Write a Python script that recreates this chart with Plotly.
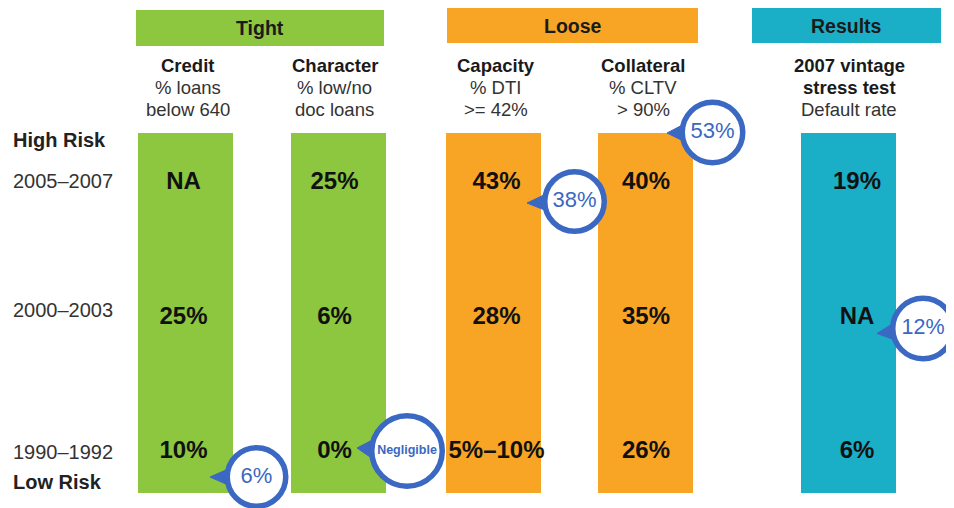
import math
import plotly.graph_objects as go

# ---------------- data ----------------
GROUPS = ["Tight", "Loose", "Results"]
COLUMNS = ["Credit", "Character", "Capacity", "Collateral", "2007 vintage stress test"]
COLUMN_LINES = [
    ["<b>Credit</b>", "% loans", "below 640"],
    ["<b>Character</b>", "% low/no", "doc loans"],
    ["<b>Capacity</b>", "% DTI", ">= 42%"],
    ["<b>Collateral</b>", "% CLTV", "> 90%"],
    ["<b>2007 vintage</b>", "<b>stress test</b>", "Default rate"],
]
COLUMN_GROUP = ["Tight", "Tight", "Loose", "Loose", "Results"]
PERIODS = ["2005–2007", "2000–2003", "1990–1992"]
CREDIT = ["NA", "25%", "10%"]
CHARACTER = ["25%", "6%", "0%"]
CAPACITY = ["43%", "28%", "5%–10%"]
COLLATERAL = ["40%", "35%", "26%"]
RESULTS = ["19%", "NA", "6%"]
SERIES = [CREDIT, CHARACTER, CAPACITY, COLLATERAL, RESULTS]
BUBBLE_COLUMN = ["Capacity", "Collateral", "Character", "Credit", "2007 vintage stress test"]
BUBBLE_PERIOD = ["2005–2007", "2005–2007", "1990–1992", "1990–1992", "2000–2003"]
BUBBLE_TEXT = ["38%", "53%", "Negligible", "6%", "12%"]
RISK_TOP, RISK_BOTTOM = "High Risk", "Low Risk"

# ---------------- style / layout ----------------
W, H = 954, 508
PAGE_OFF = 8  # default page margin around the figure
FONT = "Liberation Sans, Arial, sans-serif"
GROUP_COLORS = {"Tight": "#8DC63F", "Loose": "#F8A526", "Results": "#1AAFC7"}
BLUE = "#3A68C2"
ROW_PX0, ROW_STEP = 183.0, 134.5


def ry(px):
    return (px - ROW_PX0) / ROW_STEP


COL_X = [185.5, 338.5, 493.5, 645, 848]
COL_W = 95
BAR_TOP, BAR_BOTTOM = 133, 493
VAL_DX = [-2, -4, 3, 1, 9]
GROUP_BOX = {"Tight": (136, 384, 10, 46), "Loose": (447, 698, 8, 43), "Results": (752, 941, 8, 43)}
HEADER_LINE_Y = [65, 87.5, 109.5]
HEADER_DX = [2, -4, 2, -2, 1]
BUBBLE_OFFSET = [(81, 18.5), (67.5, -50.5), (68.5, -1), (71, 25), (75, 11)]
BUBBLE_TIP = [(-47.5, 1.5), (-45.5, 0.5), (-50, -3), (-46.5, 0), (-46, 5)]
BUBBLE_D = [65, 66, 76, 64, 66]
BUBBLE_FONT = [(22, "normal"), (22, "normal"), (12.5, "bold"), (22, "normal"), (21.5, "normal")]
RING_W = 5.5

fig = go.Figure()

# columns
fig.add_trace(go.Bar(
    x=COL_X,
    y=[ry(BAR_BOTTOM) - ry(BAR_TOP)] * len(COL_X),
    base=[ry(BAR_TOP)] * len(COL_X),
    width=[COL_W] * len(COL_X),
    marker=dict(color=[GROUP_COLORS[g] for g in COLUMN_GROUP], line_width=0),
    hoverinfo="skip",
))

# values
for ci, vals in enumerate(SERIES):
    fig.add_trace(go.Scatter(
        x=[COL_X[ci] + VAL_DX[ci]] * len(vals),
        y=list(range(len(vals))),
        mode="text",
        text=vals,
        textposition="middle center",
        textfont=dict(family=FONT, size=24, color="#111111", weight="bold"),
        hoverinfo="skip",
    ))

# bubbles
for col, per, txt, (dx, dy), (tx, ty), d, (fs, fw) in zip(
        BUBBLE_COLUMN, BUBBLE_PERIOD, BUBBLE_TEXT, BUBBLE_OFFSET, BUBBLE_TIP, BUBBLE_D, BUBBLE_FONT):
    ci = COLUMNS.index(col)
    ri = PERIODS.index(per)
    cx = COL_X[ci] + dx
    cy = ROW_PX0 + ri * ROW_STEP + dy
    r = d / 2
    ang = math.atan2(ty, tx)
    pts = [(cx + tx, cy + ty)]
    for s in (0.32, -0.32):
        pts.append((cx + (r - 4) * math.cos(ang + s), cy + (r - 4) * math.sin(ang + s)))
    pts.append(pts[0])
    fig.add_trace(go.Scatter(
        x=[p[0] for p in pts], y=[ry(p[1]) for p in pts],
        mode="lines", fill="toself", fillcolor=BLUE,
        line=dict(color=BLUE, width=1), hoverinfo="skip",
    ))
    fig.add_trace(go.Scatter(
        x=[cx], y=[ry(cy)], mode="markers+text",
        marker=dict(size=d - RING_W, color="white", line=dict(color=BLUE, width=RING_W)),
        text=[txt], textposition="middle center",
        textfont=dict(family=FONT, size=fs, color=BLUE, weight=fw),
        hoverinfo="skip", cliponaxis=False,
    ))

shapes = []
annotations = []
for g in GROUPS:
    x0, x1, y0, y1 = GROUP_BOX[g]
    shapes.append(dict(type="rect", xref="x", yref="y", x0=x0, x1=x1, y0=ry(y0), y1=ry(y1),
                       fillcolor=GROUP_COLORS[g], line_width=0, layer="below"))
    annotations.append(dict(xref="x", yref="y", x=(x0 + x1) / 2, y=ry((y0 + y1) / 2), text=f"<b>{g}</b>",
                            showarrow=False, font=dict(family=FONT, size=19.5, color="#1a1a1a"),
                            xanchor="center", yanchor="middle"))

for ci, lines in enumerate(COLUMN_LINES):
    for li, line in enumerate(lines):
        annotations.append(dict(xref="x", yref="y", x=COL_X[ci] + HEADER_DX[ci], y=ry(HEADER_LINE_Y[li]),
                                text=line, showarrow=False, align="center",
                                font=dict(family=FONT, size=18.5,
                                          color="#1a1a1a" if "<b>" in line else "#333333"),
                                xanchor="center", yanchor="middle"))

ROW_LABEL_DY = [-2, -8, 0]
for ri, p in enumerate(PERIODS):
    annotations.append(dict(xref="x", yref="y", x=11, y=ri + ROW_LABEL_DY[ri] / ROW_STEP, text=p,
                            showarrow=False, font=dict(family=FONT, size=20, color="#333333"),
                            xanchor="left", yanchor="middle"))
annotations.append(dict(xref="x", yref="y", x=11, y=ry(140), text=f"<b>{RISK_TOP}</b>", showarrow=False,
                        font=dict(family=FONT, size=20, color="#222222"), xanchor="left", yanchor="middle"))
annotations.append(dict(xref="x", yref="y", x=11, y=ry(482), text=f"<b>{RISK_BOTTOM}</b>", showarrow=False,
                        font=dict(family=FONT, size=20, color="#222222"), xanchor="left", yanchor="middle"))

fig.update_layout(
    width=W, height=H,
    margin=dict(l=0, r=0, t=0, b=0),
    paper_bgcolor="white", plot_bgcolor="white",
    showlegend=False,
    xaxis=dict(range=[PAGE_OFF, W + PAGE_OFF], visible=False, fixedrange=True),
    yaxis=dict(range=[ry(H + PAGE_OFF), ry(PAGE_OFF)], visible=False, fixedrange=True),
    shapes=shapes,
    annotations=annotations,
    bargap=0,
)

fig.write_html("out.html")
